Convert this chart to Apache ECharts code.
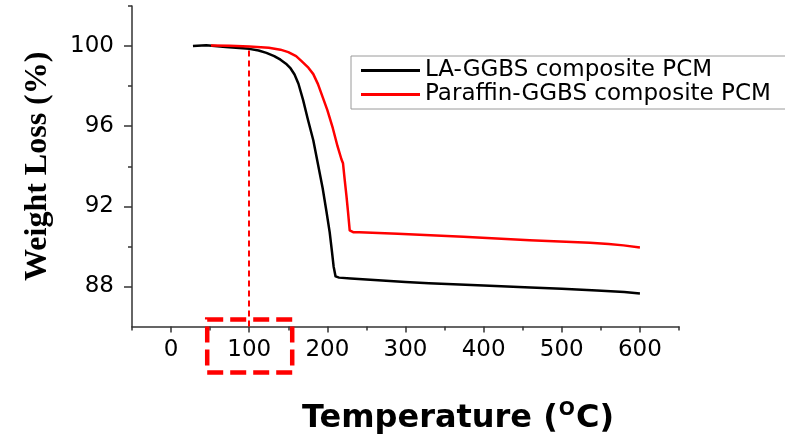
<!DOCTYPE html>
<html>
<head>
<meta charset="utf-8">
<script src="https://cdn.jsdelivr.net/npm/echarts@6/dist/echarts.min.js"></script>
<style>html,body{margin:0;padding:0;background:#fff}#c{width:785px;height:440px}</style>
</head>
<body>
<div id="c"></div>
<script>
// ---- Data ----
const seriesNames = ['LA-GGBS composite PCM', 'Paraffin-GGBS composite PCM'];
const laGgbsTemp = [28,45,70,100,112,122,132,140,147,153,158,163,169,175,182,188,194,199,203,206,208,210.5,215,230,300,330,400,460,500,545,580,600];
const laGgbsWeight = [100.0,100.04,99.95,99.86,99.78,99.66,99.5,99.32,99.12,98.88,98.58,98.12,97.3,96.35,95.3,94.1,92.9,91.7,90.7,89.7,89.0,88.5,88.44,88.4,88.22,88.16,88.05,87.95,87.88,87.8,87.72,87.65];
const paraffinTemp = [51,75,100,125,140,150,160,167,175,182,188,194,200,207,213,218,220,222,224.5,226.5,228.6,233,241,290,374,459,536,560,579,600];
const paraffinWeight = [100.03,100.02,99.98,99.92,99.82,99.7,99.5,99.25,98.95,98.6,98.1,97.45,96.8,95.9,95.0,94.35,94.15,93.4,92.5,91.7,90.8,90.71,90.7,90.63,90.48,90.31,90.18,90.12,90.05,89.94];
const xTickLabels = [0,100,200,300,400,500,600];
const xMinorTicks = [-50,50,150,250,350,450,550,650];
const yTickLabels = [88,92,96,100];
const yMinorTicks = [90,94,98,102];
const markTemp = 100;
const markTopWeight = 99.88;

const zip = (a, b) => a.map((v, i) => [v, b[i]]);
const chart = echarts.init(document.getElementById('c'), null, {renderer: 'canvas'});
const axisColor = '#333';
const xMin = -50, xMax = 650, yMin = 86, yMax = 102;

const option = {
  animation: false,
  backgroundColor: '#fff',
  grid: {left: 132, top: 6, right: 106, bottom: 112, containLabel: false},
  legend: {
    data: seriesNames,
    orient: 'vertical',
    left: 351, top: 56,
    width: 433,
    padding: [3, 30, 3, 10],
    itemGap: 1,
    itemWidth: 59, itemHeight: 14,
    borderColor: '#9a9a9a', borderWidth: 1,
    textStyle: {fontFamily: 'DejaVu Sans', fontSize: 23, color: '#000', lineHeight: 22},
    icon: 'path://M0,5.5 L59,5.5 L59,8.5 L0,8.5 Z'
  },
  xAxis: [{
    type: 'value', min: xMin, max: xMax, position: 'bottom',
    axisLine: {show: true, onZero: false, lineStyle: {color: axisColor, width: 1.5}},
    axisTick: {show: true, length: 6, customValues: xTickLabels, lineStyle: {color: axisColor, width: 1.5}},
    axisLabel: {customValues: xTickLabels, margin: 12, fontFamily: 'DejaVu Sans', fontSize: 23, color: '#000'},
    splitLine: {show: false},
    name: '{a|Temperature (}{s|O}{a|C)}',
    nameLocation: 'middle', nameGap: 74,
    nameTextStyle: {
      padding: [0, 0, 0, 105],
      rich: {
        a: {fontFamily: 'DejaVu Sans', fontWeight: 'bold', fontSize: 32, color: '#000'},
        s: {fontFamily: 'DejaVu Sans', fontWeight: 'bold', fontSize: 19, color: '#000', padding: [0, 1, 18, 1]}
      }
    }
  }, {
    type: 'value', min: xMin, max: xMax, position: 'bottom', offset: 0,
    axisLine: {show: false, onZero: false},
    axisTick: {show: true, length: 4, customValues: xMinorTicks, lineStyle: {color: axisColor, width: 1.5}},
    axisLabel: {show: false}, splitLine: {show: false}
  }],
  yAxis: [{
    type: 'value', min: yMin, max: yMax, position: 'left',
    axisLine: {show: true, onZero: false, lineStyle: {color: axisColor, width: 1.5}},
    axisTick: {show: true, length: 8, customValues: yTickLabels, lineStyle: {color: axisColor, width: 1.5}},
    axisLabel: {customValues: yTickLabels, margin: 18, fontFamily: 'DejaVu Sans', fontSize: 23, color: '#000'},
    splitLine: {show: false},
    name: 'Weight Loss (%)',
    nameLocation: 'middle', nameGap: 78,
    nameTextStyle: {fontFamily: 'Liberation Serif', fontWeight: 'bold', fontSize: 32, color: '#000'}
  }, {
    type: 'value', min: yMin, max: yMax, position: 'left', offset: 0,
    axisLine: {show: false, onZero: false},
    axisTick: {show: true, length: 4, customValues: yMinorTicks, lineStyle: {color: axisColor, width: 1.5}},
    axisLabel: {show: false}, splitLine: {show: false}
  }],
  series: [{
    name: seriesNames[0], type: 'line', showSymbol: false, smooth: false,
    data: zip(laGgbsTemp, laGgbsWeight),
    lineStyle: {color: '#000', width: 2.5, join: 'round'}, itemStyle: {color: '#000'}
  }, {
    name: seriesNames[1], type: 'line', showSymbol: false, smooth: false,
    data: zip(paraffinTemp, paraffinWeight),
    lineStyle: {color: '#ff0000', width: 2.5, join: 'round'}, itemStyle: {color: '#ff0000'},
    markLine: {
      silent: true, symbol: 'none', label: {show: false},
      lineStyle: {color: '#ff0000', width: 2, type: [6, 4]},
      data: [[{coord: [markTemp, yMin]}, {coord: [markTemp, markTopWeight]}]]
    }
  }]
};
chart.setOption(option);

// Dashed highlight box around the 100 °C tick label, placed from the axis scale
const p = chart.convertToPixel({xAxisIndex: 0, yAxisIndex: 0}, [markTemp, yMin]);
chart.setOption({
  graphic: [{
    type: 'rect', silent: true, z: 100,
    shape: {x: p[0] - 42, y: p[1] - 7, width: 85, height: 53},
    style: {fill: 'none', stroke: '#ff0000', lineWidth: 4.5, lineDash: [16, 7]}
  }]
});
</script>
</body>
</html>
